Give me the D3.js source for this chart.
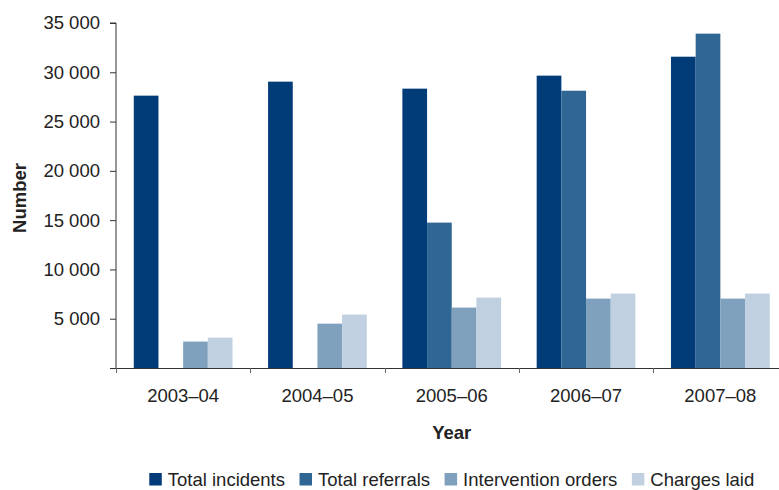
<!DOCTYPE html>
<html>
<head>
<meta charset="utf-8">
<script src="https://cdn.jsdelivr.net/npm/d3@7"></script>
<style>
  html, body { margin: 0; padding: 0; background: #fff; }
  svg { display: block; font-family: "Liberation Sans", Arial, sans-serif; }
</style>
</head>
<body>
<svg id="chart" width="779" height="490"></svg>
<script>
// Family violence: incidents, referrals, orders and charges by year
const years = ["2003–04", "2004–05", "2005–06", "2006–07", "2007–08"];
const seriesNames = ["Total incidents", "Total referrals", "Intervention orders", "Charges laid"];
const totalIncidents = [27630, 29050, 28340, 29660, 31580];
const totalReferrals = [null, null, 14750, 28130, 33920];
const interventionOrders = [2680, 4500, 6130, 7040, 7040];
const chargesLaid = [3080, 5420, 7140, 7550, 7550];
const yTicks = [0, 5000, 10000, 15000, 20000, 25000, 30000, 35000];
const seriesColors = ["#023C78", "#2F6694", "#7FA1BE", "#C0D0E0"];

const seriesValues = [totalIncidents, totalReferrals, interventionOrders, chargesLaid];

const svg = d3.select("#chart");
const plotLeft = 116, plotRight = 787.5, plotTop = 23, plotBottom = 368;
const fontSize = 18.5;
const textColor = "#222";

const x0 = d3.scaleBand().domain(years).range([plotLeft, plotRight]).padding(0);
const x1 = d3.scaleBand().domain(seriesNames).range([0, x0.bandwidth()])
  .paddingInner(0).paddingOuter(0.72);
const y = d3.scaleLinear().domain([0, 35000]).range([plotBottom, plotTop]);

const fmt = d3.formatLocale({ decimal: ".", thousands: " ", grouping: [3], currency: ["", ""] }).format(",");

// Bars
const groups = svg.append("g").selectAll("g")
  .data(years)
  .join("g")
  .attr("transform", d => `translate(${x0(d)},0)`);

groups.selectAll("rect")
  .data((d, i) => seriesNames
    .map((s, j) => ({ s, v: seriesValues[j][i], c: seriesColors[j] }))
    .filter(e => e.v != null))
  .join("rect")
  .attr("x", d => x1(d.s))
  .attr("width", x1.bandwidth())
  .attr("y", d => y(d.v))
  .attr("height", d => plotBottom - y(d.v))
  .attr("fill", d => d.c);

// Y axis
const yAxis = d3.axisLeft(y).tickValues(yTicks).tickSize(6).tickPadding(10)
  .tickFormat(d => d === 0 ? "" : fmt(d));
const yg = svg.append("g").attr("transform", `translate(${plotLeft},0)`).call(yAxis);
yg.select(".domain").attr("stroke", "#333").attr("d", `M-6,${plotTop}H0V${plotBottom}`);
yg.selectAll(".tick line").attr("stroke", "#333");
yg.selectAll(".tick text").attr("font-size", fontSize).attr("fill", textColor)
  .attr("font-family", "Liberation Sans, Arial, sans-serif");

// X axis: baseline, boundary ticks, centred labels
const xg = svg.append("g");
xg.append("line")
  .attr("x1", plotLeft - 6).attr("x2", 779)
  .attr("y1", plotBottom + 0.5).attr("y2", plotBottom + 0.5)
  .attr("stroke", "#333");
const boundaries = years.map(d => x0(d)).concat([x0(years[years.length - 1]) + x0.bandwidth()]);
xg.selectAll("line.tick")
  .data(boundaries)
  .join("line")
  .attr("class", "tick")
  .attr("x1", d => Math.round(d) + 0.5).attr("x2", d => Math.round(d) + 0.5)
  .attr("y1", plotBottom).attr("y2", plotBottom + 5)
  .attr("stroke", "#666");
xg.selectAll("text")
  .data(years)
  .join("text")
  .attr("x", d => x0(d) + x0.bandwidth() / 2)
  .attr("y", 402)
  .attr("text-anchor", "middle")
  .attr("font-size", fontSize)
  .attr("fill", textColor)
  .text(d => d);

// Axis titles
const plotCentre = (plotLeft + plotRight) / 2;
svg.append("text")
  .attr("x", plotCentre).attr("y", 439)
  .attr("text-anchor", "middle")
  .attr("font-size", fontSize).attr("font-weight", "bold").attr("fill", textColor)
  .text("Year");
svg.append("text")
  .attr("transform", `translate(26,198) rotate(-90)`)
  .attr("text-anchor", "middle")
  .attr("font-size", fontSize).attr("font-weight", "bold").attr("fill", textColor)
  .text("Number");

// Legend, centred under the plot
const legendBaseline = 485.5;
const legend = svg.append("g");
const items = legend.selectAll("g").data(seriesNames).join("g");
items.append("rect").attr("width", 12.5).attr("height", 12.5).attr("y", legendBaseline - 12.5)
  .attr("fill", (d, i) => seriesColors[i]);
items.append("text").attr("x", 18.5).attr("y", legendBaseline)
  .attr("font-size", fontSize).attr("fill", textColor).text(d => d);
const itemGap = 14.5;
let cursor = 0;
const offsets = [];
items.each(function () {
  offsets.push(cursor);
  const w = d3.select(this).select("text").node().getComputedTextLength();
  cursor += 18.5 + w + itemGap;
});
const legendWidth = cursor - itemGap;
const legendStart = plotCentre - legendWidth / 2;
items.attr("transform", (d, i) => `translate(${legendStart + offsets[i]},0)`);
</script>
</body>
</html>
